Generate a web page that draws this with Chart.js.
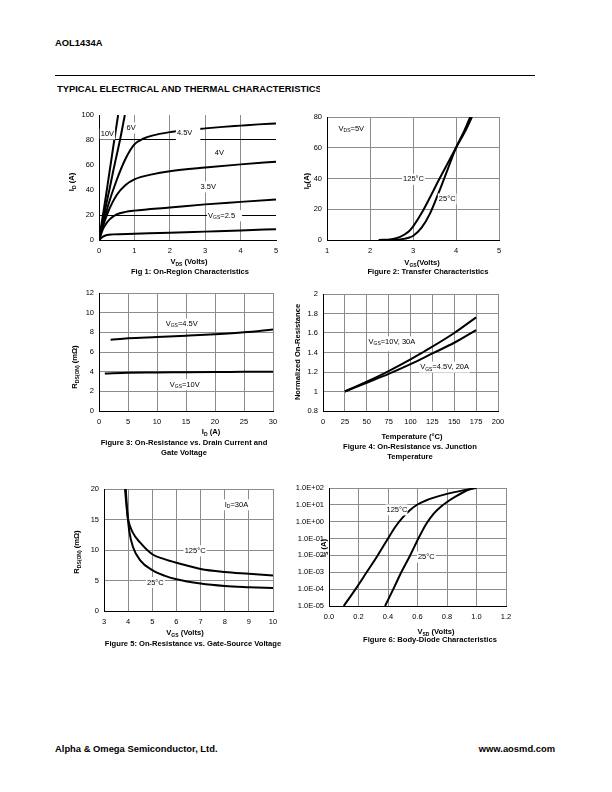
<!DOCTYPE html>
<html>
<head>
<meta charset="utf-8">
<title>AOL1434A typical characteristics</title>
<script src="https://cdn.jsdelivr.net/npm/chart.js@4.4.0/dist/chart.umd.min.js"></script>
<style>
  html, body { margin: 0; padding: 0; background: #fff; }
  body { width: 612px; height: 792px; position: relative; overflow: hidden;
         font-family: "Liberation Sans", Arial, sans-serif; color: #000; }
  canvas { position: absolute; }
  .t { position: absolute; white-space: nowrap; font-weight: bold; line-height: 1;
       font-size: 7.6px; transform: translate(-50%, -50%); }
  .rot { transform: translate(-50%, -50%) rotate(-90deg); }
  .t sub { font-size: 5px; vertical-align: baseline; position: relative; top: 1.5px; }
  .hd { position: absolute; white-space: nowrap; font-weight: bold; font-size: 9.4px; line-height: 1; }
</style>
</head>
<body>

<div class="hd" style="left:55px; top:38px;">AOL1434A</div>
<div style="position:absolute; left:55px; top:75px; width:480px; height:1px; background:#000;"></div>
<div class="hd" style="left:57px; top:84px; width:263px; overflow:hidden;">TYPICAL ELECTRICAL AND THERMAL CHARACTERISTICS</div>

<canvas id="c1"></canvas>
<canvas id="c2"></canvas>
<canvas id="c3"></canvas>
<canvas id="c4"></canvas>
<canvas id="c5"></canvas>
<canvas id="c6"></canvas>

<!-- axis titles and captions -->
<div class="t rot" style="left:72px; top:182px;">I<sub>D</sub> (A)</div>
<div class="t" style="left:189px; top:262px;">V<sub>DS</sub> (Volts)</div>
<div class="t" style="left:190px; top:272px;">Fig 1: On-Region Characteristics</div>

<div class="t rot" style="left:307px; top:181px;">I<sub>D</sub>(A)</div>
<div class="t" style="left:422px; top:263px;">V<sub>GS</sub>(Volts)</div>
<div class="t" style="left:428px; top:272px;">Figure 2: Transfer Characteristics</div>

<div class="t rot" style="left:75px; top:367px;">R<sub>DS(ON)</sub> (mΩ)</div>
<div class="t" style="left:211px; top:432px;">I<sub>D</sub> (A)</div>
<div class="t" style="left:184px; top:443px;">Figure 3: On-Resistance vs. Drain Current and</div>
<div class="t" style="left:184px; top:453px;">Gate Voltage</div>

<div class="t rot" style="left:298px; top:352px;">Normalized On-Resistance</div>
<div class="t" style="left:412px; top:437px;">Temperature (°C)</div>
<div class="t" style="left:410px; top:447px;">Figure 4: On-Resistance vs. Junction</div>
<div class="t" style="left:410px; top:457px;">Temperature</div>

<div class="t rot" style="left:77px; top:552px;">R<sub>DS(ON)</sub> (mΩ)</div>
<div class="t" style="left:185px; top:633px;">V<sub>GS</sub> (Volts)</div>
<div class="t" style="left:193px; top:644px;">Figure 5: On-Resistance vs. Gate-Source Voltage</div>

<div class="t rot" style="left:324px; top:548px;">I<sub>S</sub> (A)</div>
<div class="t" style="left:436px; top:632px;">V<sub>SD</sub> (Volts)</div>
<div class="t" style="left:430px; top:640px;">Figure 6: Body-Diode Characteristics</div>

<div class="hd" style="left:55px; top:744px;">Alpha &amp; Omega Semiconductor, Ltd.</div>
<div class="hd" style="right:57px; top:744px;">www.aosmd.com</div>

<script>
// ── Fig 1: on-region (VDS volts, ID amps) ──
const f1XTicks = [0, 1, 2, 3, 4, 5];
const f1YTicks = [0, 20, 40, 60, 80, 100];
const f1X10 = [0, 0.1, 0.2, 0.3, 0.4, 0.54];
const f1Y10 = [0, 18, 36, 55, 74, 100];
const f1X6 = [0, 0.1, 0.2, 0.3, 0.4, 0.5, 0.6, 0.73];
const f1Y6 = [0, 14, 28, 41, 55, 68, 81, 100];
const f1X45 = [0, 0.1, 0.25, 0.5, 0.75, 1.0, 1.25, 1.5, 2.0, 2.5, 3.0, 3.5, 4.0, 4.5, 5.0];
const f1Y45 = [0, 11, 27, 48, 65, 76.5, 81, 83.5, 86.3, 88, 89.3, 90.5, 91.5, 92.5, 93.3];
const f1X4 = [0, 0.1, 0.25, 0.5, 0.75, 1, 1.5, 2, 3, 4, 5];
const f1Y4 = [0, 10, 22, 36, 44, 48.5, 52.5, 55, 58, 60.5, 62.7];
const f1X35 = [0, 0.1, 0.2, 0.3, 0.5, 0.75, 1, 2, 3, 4, 5];
const f1Y35 = [0, 8, 13, 16.5, 20.5, 22.5, 23.5, 26, 28.5, 30.5, 32.5];
const f1X25 = [0, 0.1, 0.2, 0.4, 1, 2, 3, 4, 5];
const f1Y25 = [0, 2.5, 3.8, 4.5, 5, 5.8, 6.7, 7.6, 8.7];

// ── Fig 2: transfer (VGS volts, ID amps) ──
const f2XTicks = [1, 2, 3, 4, 5];
const f2YTicks = [0, 20, 40, 60, 80];
const f2X125 = [2.2, 2.5, 2.7, 2.9, 3.0, 3.2, 3.4, 3.6, 3.8, 4.0, 4.2, 4.37];
const f2Y125 = [0, 0.5, 2, 5.5, 8.7, 17.5, 28, 39, 49.5, 60, 70, 80];
const f2X25 = [2.5, 2.7, 2.9, 3.0, 3.2, 3.4, 3.6, 3.8, 4.0, 4.2, 4.33];
const f2Y25 = [0, 0.4, 1.5, 2.6, 8, 17.5, 31, 45.5, 60, 71.5, 80];

// ── Fig 3: RDS(on) vs ID (amps, mOhm) ──
const f3XTicks = [0, 5, 10, 15, 20, 25, 30];
const f3YTicks = [0, 2, 4, 6, 8, 10, 12];
const f3X45 = [2, 5, 10, 15, 20, 25, 30];
const f3Y45 = [7.25, 7.4, 7.52, 7.65, 7.8, 8.0, 8.3];
const f3X10 = [1, 5, 10, 15, 20, 25, 30];
const f3Y10 = [3.82, 3.9, 3.92, 3.95, 3.97, 3.98, 4.0];

// ── Fig 4: normalized RDS(on) vs temperature ──
const f4XTicks = [0, 25, 50, 75, 100, 125, 150, 175, 200];
const f4YTicks = [0.8, 1, 1.2, 1.4, 1.6, 1.8, 2];
const f4Temp = [25, 50, 75, 100, 125, 150, 175];
const f4Y10 = [1, 1.1, 1.21, 1.33, 1.46, 1.6, 1.76];
const f4Y45 = [1, 1.09, 1.18, 1.28, 1.39, 1.5, 1.63];

// ── Fig 5: RDS(on) vs VGS ──
const f5XTicks = [3, 4, 5, 6, 7, 8, 9, 10];
const f5YTicks = [0, 5, 10, 15, 20];
const f5X125 = [3.87, 3.95, 4.0, 4.2, 4.5, 5, 5.5, 6, 7, 8, 9, 10];
const f5Y125 = [20, 16.5, 15, 12.8, 11.2, 9.3, 8.5, 7.9, 6.9, 6.4, 6.1, 5.8];
const f5X25 = [3.9, 3.97, 4.05, 4.2, 4.5, 5, 5.5, 6, 7, 8, 9, 10];
const f5Y25 = [20, 16, 13, 10.5, 8.3, 6.7, 5.8, 5.2, 4.5, 4.1, 3.9, 3.75];

// ── Fig 6: body diode (VSD volts, IS amps, log) ──
const f6XTicks = [0, 0.2, 0.4, 0.6, 0.8, 1.0, 1.2];
const f6XLabels = ["0.0", "0.2", "0.4", "0.6", "0.8", "1.0", "1.2"];
const f6YTicks = [1e-5, 1e-4, 1e-3, 1e-2, 1e-1, 1e0, 1e1, 1e2];
const f6YLabels = ["1.0E-05", "1.0E-04", "1.0E-03", "1.0E-02", "1.0E-01", "1.0E+00", "1.0E+01", "1.0E+02"];
const f6X125 = [0.1, 0.18, 0.255, 0.33, 0.40, 0.45, 0.5, 0.55, 0.6, 0.65, 0.7, 0.8, 0.9, 1.0];
const f6Y125 = [1e-5, 1e-4, 1e-3, 1e-2, 1e-1, 0.5, 1.8, 5, 10.5, 17, 25, 45, 70, 100];
const f6X25 = [0.38, 0.436, 0.49, 0.55, 0.606, 0.66, 0.71, 0.76, 0.81, 0.86, 0.92, 0.98];
const f6Y25 = [1e-5, 1e-4, 1e-3, 1e-2, 0.1, 0.75, 3, 8, 17, 32, 62, 100];

// curve labels, {..} = subscript
const f1Notes = [
  { x: 0.05, y: 84.8, text: "10V" },
  { x: 0.78, y: 89.6, text: "6V" },
  { x: 2.2, y: 85.6, text: "4.5V", pad: [1, 8, 2, 4] },
  { x: 3.27, y: 69.8, text: "4V" },
  { x: 2.87, y: 42.4, text: "3.5V" },
  { x: 3.08, y: 19.4, text: "V{GS}=2.5", pad: [1, 7, 1, 1] },
];
const f2Notes = [
  { x: 1.27, y: 72.4, text: "V{DS}=5V" },
  { x: 2.77, y: 39.5, text: "125°C" },
  { x: 3.6, y: 26.7, text: "25°C" },
];
const f3Notes = [
  { x: 11.5, y: 8.86, text: "V{GS}=4.5V" },
  { x: 12.2, y: 2.7, text: "V{GS}=10V" },
];
const f4Notes = [
  { x: 52, y: 1.51, text: "V{GS}=10V, 30A", pad: [1, 8, 1, 5] },
  { x: 111, y: 1.25, text: "V{GS}=4.5V, 20A" },
];
const f5Notes = [
  { x: 8.0, y: 17.4, text: "I{D}=30A" },
  { x: 6.34, y: 9.86, text: "125°C" },
  { x: 4.78, y: 4.67, text: "25°C" },
];
const f6Notes = [
  { x: 0.39, y: 5, text: "125°C", pad: [1, 0, 1, 1] },
  { x: 0.603, y: 0.008, text: "25°C" },
];

Chart.defaults.font.family = '"Liberation Sans", Arial, sans-serif';
Chart.defaults.font.size = 7.5;
Chart.defaults.color = "#000";

const GRID = "#8c8c8c";
// margins around each plot area inside its canvas
const ML = 45, MT = 10, MR = 20, MB = 18;

// draws text labels (white box behind) at data coordinates
const labelPlugin = {
  id: "curveLabels",
  afterDatasetsDraw(chart, args, opts) {
    const ctx = chart.ctx;
    const xs = chart.scales.x, ys = chart.scales.y;
    const fam = '"Liberation Sans", Arial, sans-serif';
    ctx.save();
    (opts.items || []).forEach((it) => {
      const px = xs.getPixelForValue(it.x);
      const py = ys.getPixelForValue(it.y);
      let w = 0;
      const segs = it.text.split(/(\{[^}]*\})/).filter((s) => s).map((p) => {
        const sub = p[0] === "{";
        const s = sub ? p.slice(1, -1) : p;
        ctx.font = (sub ? 5 : 7.5) + "px " + fam;
        const seg = { s, sub, x: w };
        w += ctx.measureText(s).width;
        return seg;
      });
      const pad = it.pad || [1, 1, 1, 1];
      ctx.fillStyle = "#fff";
      ctx.fillRect(px - pad[0], py - 4.5 - pad[2], w + pad[0] + pad[1], 9 + pad[2] + pad[3]);
      ctx.fillStyle = "#000";
      ctx.textBaseline = "middle";
      segs.forEach((g) => {
        ctx.font = (g.sub ? 5 : 7.5) + "px " + fam;
        ctx.fillText(g.s, px + g.x, g.sub ? py + 2 : py);
      });
    });
    ctx.restore();
  },
};

function curve(xs, ys) {
  return {
    data: xs.map((x, i) => ({ x: x, y: ys[i] })),
    showLine: true,
    borderColor: "#000",
    borderWidth: 2,
    pointRadius: 0,
    cubicInterpolationMode: "monotone",
    fill: false,
  };
}

function axis(isX, ticks, range, opts) {
  opts = opts || {};
  const labels = opts.labels || ticks.map(String);
  return {
    type: opts.type || "linear",
    min: range[0],
    max: range[1],
    afterBuildTicks: (s) => { s.ticks = ticks.map((v) => ({ value: v })); },
    afterFit: (s) => { if (isX) s.height = MB; else s.width = ML; },
    grid: { color: opts.grid || GRID, lineWidth: 1, drawTicks: false },
    border: { color: "#000", width: 1 },
    ticks: {
      padding: isX ? 6 : 5,
      autoSkip: false,
      maxRotation: 0,
      callback: (v) => labels[ticks.indexOf(v)],
    },
  };
}

function plot(id, box, sets, xAx, yAx, notes) {
  const cv = document.getElementById(id);
  cv.width = box.w + ML + MR;
  cv.height = box.h + MT + MB;
  cv.style.left = box.l - ML + "px";
  cv.style.top = box.t - MT + "px";
  return new Chart(cv, {
    type: "scatter",
    data: { datasets: sets },
    options: {
      responsive: false,
      animation: false,
      events: [],
      layout: { padding: { left: 0, top: MT, right: MR, bottom: 0 } },
      plugins: {
        legend: { display: false },
        tooltip: { enabled: false },
        curveLabels: { items: notes },
      },
      scales: { x: xAx, y: yAx },
    },
    plugins: [labelPlugin],
  });
}

// Fig 1 only shows vertical grid inside, and dark lines at 20 and 80
plot("c1", { l: 99, t: 115, w: 177, h: 125 },
  [curve(f1X10, f1Y10), curve(f1X6, f1Y6), curve(f1X45, f1Y45),
   curve(f1X4, f1Y4), curve(f1X35, f1Y35), curve(f1X25, f1Y25)],
  axis(true, f1XTicks, [0, 5], { grid: (c) => (c.tick.value > 0 && c.tick.value < 5 ? GRID : "rgba(0,0,0,0)") }),
  axis(false, f1YTicks, [0, 100], { grid: (c) => (c.tick.value === 20 || c.tick.value === 80 ? "#000" : "rgba(0,0,0,0)") }),
  f1Notes);

plot("c2", { l: 327, t: 117, w: 172, h: 123 },
  [curve(f2X125, f2Y125), curve(f2X25, f2Y25)],
  axis(true, f2XTicks, [1, 5]),
  axis(false, f2YTicks, [0, 80]),
  f2Notes);

plot("c3", { l: 99, t: 293, w: 174, h: 118 },
  [curve(f3X45, f3Y45), curve(f3X10, f3Y10)],
  axis(true, f3XTicks, [0, 30]),
  axis(false, f3YTicks, [0, 12]),
  f3Notes);

plot("c4", { l: 323, t: 294, w: 175, h: 117 },
  [curve(f4Temp, f4Y10), curve(f4Temp, f4Y45)],
  axis(true, f4XTicks, [0, 200]),
  axis(false, f4YTicks, [0.8, 2]),
  f4Notes);

plot("c5", { l: 104, t: 489, w: 169, h: 122 },
  [curve(f5X125, f5Y125), curve(f5X25, f5Y25)],
  axis(true, f5XTicks, [3, 10]),
  axis(false, f5YTicks, [0, 20]),
  f5Notes);

plot("c6", { l: 329, t: 488, w: 177, h: 118 },
  [curve(f6X125, f6Y125), curve(f6X25, f6Y25)],
  axis(true, f6XTicks, [0, 1.2], { labels: f6XLabels }),
  axis(false, f6YTicks, [1e-5, 1e2], { type: "logarithmic", labels: f6YLabels }),
  f6Notes);
</script>
</body>
</html>
